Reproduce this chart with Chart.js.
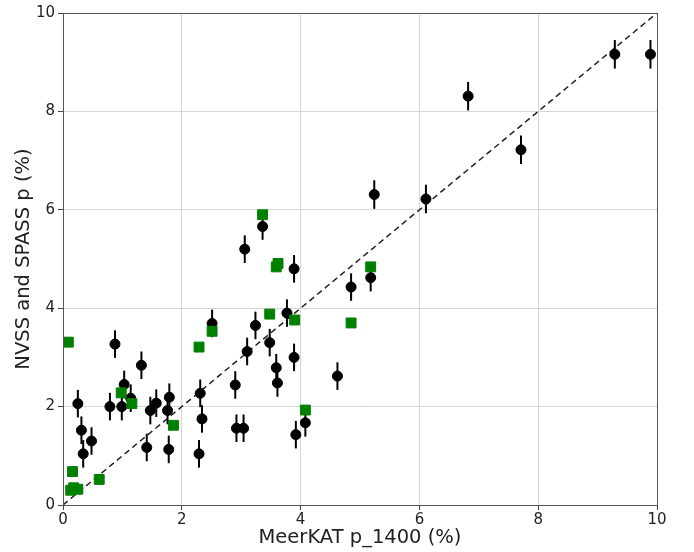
<!DOCTYPE html>
<html>
<head>
<meta charset="utf-8">
<script src="https://cdn.jsdelivr.net/npm/chart.js@4/dist/chart.umd.min.js"></script>
<style>
  html, body { margin: 0; padding: 0; background: #fff; }
  #wrap { width: 694px; height: 552px; }
</style>
</head>
<body>
<div id="wrap"><canvas id="scatter" width="694" height="552"></canvas></div>
<script>
// MeerKAT vs NVSS/SPASS polarisation fractions

const blackX = [9.29, 9.89, 6.82, 7.71, 5.24, 6.11, 3.36, 3.06, 3.89, 4.85, 5.18,
  2.51, 3.24, 3.77, 3.48, 3.10, 3.59, 3.61, 3.89, 4.62, 2.90, 2.31, 2.34, 2.92, 3.04,
  2.29, 3.92, 4.08, 0.875, 1.32, 0.25, 1.03, 0.79, 0.99, 1.14, 1.47, 1.57, 1.76, 1.79,
  0.31, 0.48, 0.34, 1.41, 1.78];
const blackY = [9.16, 9.16, 8.31, 7.22, 6.31, 6.22, 5.66, 5.20, 4.80, 4.43, 4.62,
  3.69, 3.65, 3.90, 3.30, 3.12, 2.79, 2.48, 3.00, 2.62, 2.44, 2.27, 1.75, 1.56, 1.56,
  1.04, 1.43, 1.67, 3.27, 2.84, 2.06, 2.45, 2.00, 2.00, 2.17, 1.92, 2.07, 1.92, 2.19,
  1.52, 1.30, 1.04, 1.17, 1.13];
const blackErr = [0.29, 0.29, 0.29, 0.29, 0.29, 0.29, 0.27, 0.28, 0.28, 0.28, 0.28,
  0.28, 0.28, 0.28, 0.28, 0.28, 0.28, 0.28, 0.28, 0.28, 0.28, 0.28, 0.28, 0.28, 0.28,
  0.28, 0.28, 0.28, 0.28, 0.28, 0.28, 0.28, 0.28, 0.28, 0.28, 0.28, 0.28, 0.28, 0.28,
  0.28, 0.28, 0.28, 0.28, 0.28];

const greenX = [0.09, 0.98, 1.16, 1.86, 0.16, 0.13, 0.18, 0.25, 0.61, 2.29, 2.51,
  3.36, 3.59, 3.62, 5.18, 3.48, 3.90, 4.85, 4.08];
const greenY = [3.31, 2.28, 2.06, 1.62, 0.68, 0.30, 0.35, 0.32, 0.52, 3.21, 3.53,
  5.90, 4.84, 4.91, 4.84, 3.88, 3.76, 3.70, 1.93];

const axisTicks = [0, 2, 4, 6, 8, 10];

const blackPts = blackX.map((x, i) => ({ x: x, y: blackY[i] }));
const greenPts = greenX.map((x, i) => ({ x: x, y: greenY[i] }));

// vertical error bars on the black points
const errorBars = {
  id: 'errorBars',
  beforeDatasetsDraw(chart) {
    const meta = chart.getDatasetMeta(1);
    const ys = chart.scales.y;
    const ctx = chart.ctx;
    ctx.save();
    ctx.strokeStyle = '#000';
    ctx.lineWidth = 2;
    meta.data.forEach((pt, i) => {
      ctx.beginPath();
      ctx.moveTo(pt.x, ys.getPixelForValue(blackY[i] + blackErr[i]));
      ctx.lineTo(pt.x, ys.getPixelForValue(blackY[i] - blackErr[i]));
      ctx.stroke();
    });
    ctx.restore();
  }
};

// box around the plot area
const frame = {
  id: 'frame',
  afterDraw(chart) {
    const a = chart.chartArea;
    const ctx = chart.ctx;
    ctx.save();
    ctx.strokeStyle = '#555';
    ctx.lineWidth = 1;
    ctx.strokeRect(a.left + 0.5, a.top + 0.5, a.right - a.left, a.bottom - a.top);
    ctx.restore();
  }
};

const tickFont = { family: 'DejaVu Sans', size: 15 };
const titleFont = { family: 'DejaVu Sans', size: 19.5 };

const ctx = document.getElementById('scatter').getContext('2d');
const chart = new Chart(ctx, {
  type: 'scatter',
  data: {
    datasets: [
      {
        type: 'line',
        data: [{ x: 0, y: 0 }, { x: 10, y: 10 }],
        borderColor: '#222',
        borderWidth: 1.5,
        borderDash: [6, 4],
        pointRadius: 0,
        fill: false,
        order: 3
      },
      {
        data: blackPts,
        backgroundColor: '#000',
        borderColor: '#000',
        pointStyle: 'circle',
        pointRadius: 5,
        order: 2
      },
      {
        data: greenPts,
        backgroundColor: '#008000',
        borderColor: '#008000',
        pointStyle: 'rect',
        pointRadius: 7,
        order: 1
      }
    ]
  },
  options: {
    responsive: false,
    animation: false,
    layout: { padding: { top: 13, right: 37, left: 0, bottom: 0 } },
    plugins: {
      legend: { display: false },
      tooltip: { enabled: false }
    },
    scales: {
      x: {
        type: 'linear',
        min: 0,
        max: 10,
        afterBuildTicks: (s) => { s.ticks = axisTicks.map(v => ({ value: v })); },
        afterFit: (s) => { s.height = 47; },
        ticks: { color: '#222', font: tickFont, padding: 1 },
        grid: { color: '#d6d6d6', tickColor: '#444', tickLength: 5 },
        border: { color: '#555' },
        title: { display: true, text: 'MeerKAT p_1400 (%)', color: '#222', font: titleFont, padding: { top: 0, bottom: 2 } }
      },
      y: {
        type: 'linear',
        min: 0,
        max: 10,
        afterBuildTicks: (s) => { s.ticks = axisTicks.map(v => ({ value: v })); },
        afterFit: (s) => { s.width = 63; },
        ticks: { color: '#222', font: tickFont, padding: 3 },
        grid: { color: '#d6d6d6', tickColor: '#444', tickLength: 5 },
        border: { color: '#555' },
        title: { display: true, text: 'NVSS and SPASS p (%)', color: '#222', font: titleFont, padding: { top: 12, bottom: 4 } }
      }
    }
  },
  plugins: [errorBars, frame]
});
</script>
</body>
</html>
